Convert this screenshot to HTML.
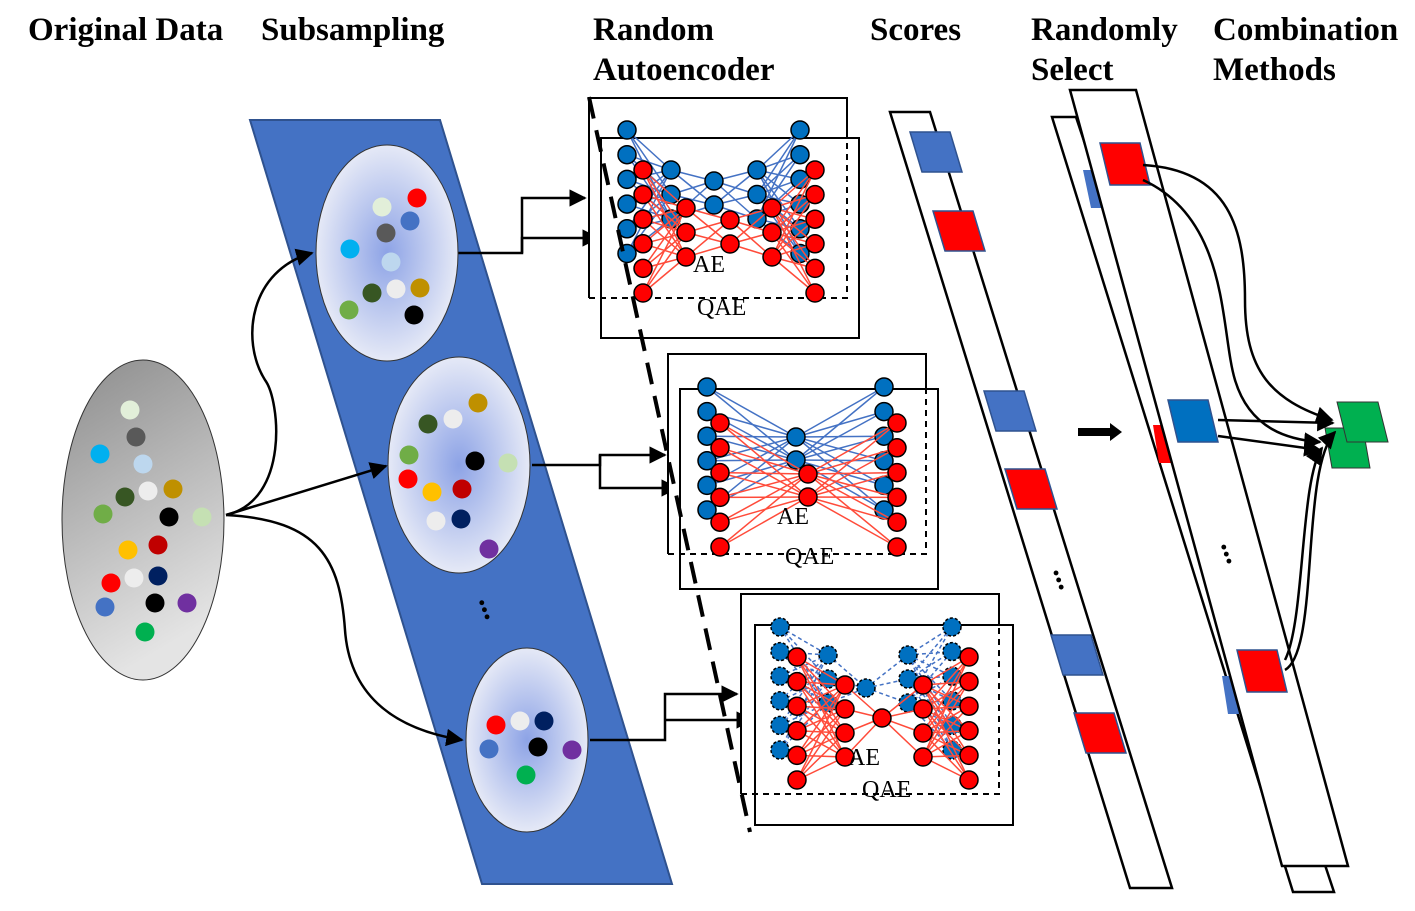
<!DOCTYPE html>
<html><head><meta charset="utf-8"><style>
body{margin:0;background:#fff;width:1415px;height:906px;overflow:hidden}
svg text{font-family:"Liberation Serif",serif}
</style></head><body>
<svg id="svg" width="1415" height="906" viewBox="0 0 1415 906" xmlns="http://www.w3.org/2000/svg">
<defs>
<radialGradient id="g1" cx="50%" cy="50%" r="55%"><stop offset="0" stop-color="#8da3e6"/><stop offset="1" stop-color="#eef0f8"/></radialGradient>
<linearGradient id="g0" x1="0" y1="0" x2="0.3" y2="1"><stop offset="0" stop-color="#8c8c8c"/><stop offset="1" stop-color="#e4e4e4"/></linearGradient>
<marker id="ar" viewBox="0 0 10 10" refX="9" refY="5" markerWidth="7" markerHeight="7" orient="auto"><path d="M0,0L10,5L0,10z" fill="#000"/></marker>
</defs>
<g font-weight="bold" font-size="33">
<text x="28" y="40">Original Data</text>
<text x="261" y="40">Subsampling</text>
<text x="593" y="40">Random</text>
<text x="593" y="80">Autoencoder</text>
<text x="870" y="40">Scores</text>
<text x="1031" y="40">Randomly</text>
<text x="1031" y="80">Select</text>
<text x="1213" y="40">Combination</text>
<text x="1213" y="80">Methods</text>
</g>
<polygon points="250,120 440,120 672,884 482,884" fill="#4472C4" stroke="#2F528F" stroke-width="2"/>
<ellipse cx="143" cy="520" rx="81" ry="160" fill="url(#g0)" stroke="#333"/>
<g fill="none" stroke="#000" stroke-width="2.5">
<path d="M226,515 C290,500 280,400 265,380 C240,340 250,270 312,253" marker-end="url(#ar)"/>
<path d="M226,515 L386,466" marker-end="url(#ar)"/>
<path d="M226,515 C320,520 340,560 345,630 C350,700 400,730 462,740" marker-end="url(#ar)"/>
<path d="M458,253 H522 V198 H585" marker-end="url(#ar)"/>
<path d="M522,253 V238 H598" marker-end="url(#ar)"/>
<path d="M532,465 H600 V455 H665" marker-end="url(#ar)"/>
<path d="M600,455 V488 H677" marker-end="url(#ar)"/>
<path d="M590,740 H665 V694 H737" marker-end="url(#ar)"/>
<path d="M665,720 H752" marker-end="url(#ar)"/>
</g>
<g id="subs"></g>
<g id="nets"></g>
<path d="M589,97 L750,832" fill="none" stroke="#000" stroke-dasharray="22,12" stroke-width="4"/>
<text x="480" y="612" font-size="30" font-weight="bold" transform="rotate(70 488 605)">...</text>
<polygon points="890,112 930,112 1172,888 1130,888" fill="#fff" stroke="#000" stroke-width="2.5"/>
<g id="sq"></g>
<text x="1053" y="580" font-size="30" font-weight="bold" transform="rotate(70 1060 575)">...</text>
<polygon points="1052,117 1076,117 1334,892 1293,892" fill="#fff" stroke="#000" stroke-width="2.5"/>
<polygon points="1083,170 1098,170 1106,208 1091,208" fill="#4472C4"/>
<polygon points="1153,425 1166,425 1172,463 1159,463" fill="#f00"/>
<polygon points="1222,676 1236,676 1242,714 1228,714" fill="#4472C4"/>
<polygon points="1070,90 1136,90 1348,866 1282,866" fill="#fff" stroke="#000" stroke-width="2.5"/>
<polygon points="1078,428 1110,428 1110,423 1122,432 1110,441 1110,436 1078,436" fill="#000"/>
<text x="1220" y="555" font-size="30" font-weight="bold" transform="rotate(70 1228 550)">...</text>
<polygon points="1325,428 1363,428 1370,468 1332,468" fill="#00B050" stroke="#333"/>
<polygon points="1337,402 1378,402 1388,442 1347,442" fill="#00B050" stroke="#333"/>
<g id="selg"></g>
<g fill="none" stroke="#000" stroke-width="2.5">
<path d="M1143,165 C1230,170 1245,230 1245,300 C1245,370 1270,400 1332,420" marker-end="url(#ar)"/>
<path d="M1143,180 C1230,220 1220,330 1235,380 C1250,430 1290,440 1320,442" marker-end="url(#ar)"/>
<path d="M1218,420 L1333,423" marker-end="url(#ar)"/>
<path d="M1218,436 L1320,450" marker-end="url(#ar)"/>
<path d="M1285,670 C1320,650 1300,470 1335,432" marker-end="url(#ar)"/>
<path d="M1285,660 C1305,620 1300,480 1322,448" marker-end="url(#ar)"/>
</g>
</svg>
<script>
const NS='http://www.w3.org/2000/svg';
function mk(p,t,a,name){const e=document.createElementNS(NS,t);for(const k in a)e.setAttribute(k,a[k]);


p.appendChild(e);return e;}
const svg=document.getElementById('svg');
const origDots=[[130,410,'#e2efd9'],[136,437,'#595959'],[100,454,'#00b0f0'],[143,464,'#bdd7ee'],[125,497,'#375623'],[148,491,'#ededed'],[173,489,'#bf9000'],[103,514,'#70ad47'],[169,517,'#000'],[202,517,'#c5e0b3'],[128,550,'#ffc000'],[158,545,'#c00000'],[111,583,'#f00'],[134,578,'#ededed'],[158,576,'#002060'],[105,607,'#4472c4'],[155,603,'#000'],[187,603,'#7030a0'],[145,632,'#00b050']];
const subs=document.getElementById('subs');
const ell=[[387,253,71,108],[459,465,71,108],[527,740,61,92]];
ell.forEach((e,i)=>mk(subs,'ellipse',{cx:e[0],cy:e[1],rx:e[2],ry:e[3],fill:'url(#g1)',stroke:'#333'},'subsample-'+(i+1)));
const subDots=[[382,207,'#e2efd9'],[417,198,'#f00'],[410,221,'#4472c4'],[386,233,'#595959'],[350,249,'#00b0f0'],[391,262,'#bdd7ee'],[372,293,'#375623'],[396,289,'#ededed'],[420,288,'#bf9000'],[349,310,'#70ad47'],[414,315,'#000'],
[478,403,'#bf9000'],[428,424,'#375623'],[453,419,'#ededed'],[409,455,'#70ad47'],[475,461,'#000'],[508,463,'#c5e0b3'],[408,479,'#f00'],[432,492,'#ffc000'],[462,489,'#c00000'],[436,521,'#ededed'],[461,519,'#002060'],[489,549,'#7030a0'],
[496,725,'#f00'],[520,721,'#ededed'],[544,721,'#002060'],[489,749,'#4472c4'],[538,747,'#000'],[572,750,'#7030a0'],[526,775,'#00b050']];
origDots.concat(subDots).forEach((d,i)=>mk(subs,'circle',{cx:d[0],cy:d[1],r:9.5,fill:d[2]},'data-point'));
const nets=document.getElementById('nets');
const boxes=[[589,98,258,200,true],[601,138,258,200,false],[668,354,258,200,true],[680,389,258,200,false],[741,594,258,200,true],[755,625,258,200,false]];
const netBlue=[[[627,6,130,24.7],[671,3,170,24.5],[714,2,181,24],[757,3,170,24.5],[800,6,130,24.7]],
[[707,6,387,24.6],[796,2,437,23],[884,6,387,24.6]],
[[780,6,627,24.6],[828,3,655,24],[866,1,688,0],[908,3,655,24],[952,6,627,24.6]]];
const netRed=[[[643,6,170,24.6],[686,3,208,24.5],[730,2,220,24],[772,3,208,24.5],[815,6,170,24.6]],
[[720,6,423,24.8],[808,2,474,23],[897,6,423,24.8]],
[[797,6,657,24.6],[845,4,685,24],[882,1,718,0],[923,4,685,24],[969,6,657,24.6]]];
const labels=[[693,272,697,315],[777,524,785,564],[848,765,862,797]];
for(let n=0;n<3;n++){
  const bb=boxes[n*2],bf=boxes[n*2+1];
  mk(nets,'rect',{x:bb[0],y:bb[1],width:bb[2],height:bb[3],fill:'#fff',stroke:'none'},'ae-box-'+(n+1));
  mk(nets,'path',{d:`M${bb[0]},${bb[1]+bb[3]}V${bb[1]}H${bb[0]+bb[2]}V${bf[1]}`,fill:'none',stroke:'#000','stroke-width':2},'ae-box-solid-'+(n+1));
  mk(nets,'path',{d:`M${bf[0]},${bf[1]}H${bf[0]+bf[2]}V${bf[1]+bf[3]}H${bf[0]}Z`,fill:'none',stroke:'#000','stroke-width':2},'qae-box-'+(n+1));
  mk(nets,'path',{d:`M${bb[0]},${bb[1]+bb[3]}H${bb[0]+bb[2]}V${bf[1]}`,fill:'none',stroke:'#000','stroke-width':2,'stroke-dasharray':'6,5'},'ae-box-dashed-'+(n+1));
  [[netBlue[n],'#4472c4','#0070c0'],[netRed[n],'#ff4b3a','#f00']].forEach(([L,lc,nc])=>{
    const pts=L.map(l=>Array.from({length:l[1]},(_,i)=>[l[0],l[2]+i*l[3]]));
    for(let k=0;k<pts.length-1;k++)pts[k].forEach(a=>pts[k+1].forEach(b=>{
      const o={x1:a[0],y1:a[1],x2:b[0],y2:b[1],stroke:lc,'stroke-width':1.5};if(n==2&&nc=='#0070c0')o['stroke-dasharray']='4,3';
      mk(nets,'line',o,'edge');}));
    pts.flat().forEach(p=>{const o={cx:p[0],cy:p[1],r:9,fill:nc,stroke:'#000','stroke-width':1.5};if(n==2&&nc=='#0070c0')o['stroke-dasharray']='3,2';mk(nets,'circle',o,'neuron');});
  });
  const lb=labels[n];
  const t1=mk(nets,'text',{x:lb[0],y:lb[1],'font-size':24},'ae-label');t1.textContent='AE';
  const t2=mk(nets,'text',{x:lb[2],y:lb[3],'font-size':24},'qae-label');t2.textContent='QAE';
}
const sq=document.getElementById('sq');
const scoreSq=[[910,132,'#4472c4'],[933,211,'#f00'],[984,391,'#4472c4'],[1005,469,'#f00'],[1051,635,'#4472c4'],[1074,713,'#f00']];
scoreSq.forEach(s=>mk(sq,'polygon',{points:`${s[0]},${s[1]} ${s[0]+40},${s[1]} ${s[0]+52},${s[1]+40} ${s[0]+12},${s[1]+40}`,fill:s[2],stroke:'#2F528F','stroke-width':1.5},'score-square'));
const selg=document.getElementById('selg');
const selSq=[[1100,143,'#f00'],[1168,400,'#0070c0'],[1237,650,'#f00']];
selSq.forEach(s=>mk(selg,'polygon',{points:`${s[0]},${s[1]} ${s[0]+40},${s[1]} ${s[0]+50},${s[1]+42} ${s[0]+10},${s[1]+42}`,fill:s[2],stroke:'#2F528F','stroke-width':1.5},'selected-square'));
</script>
</body></html>
